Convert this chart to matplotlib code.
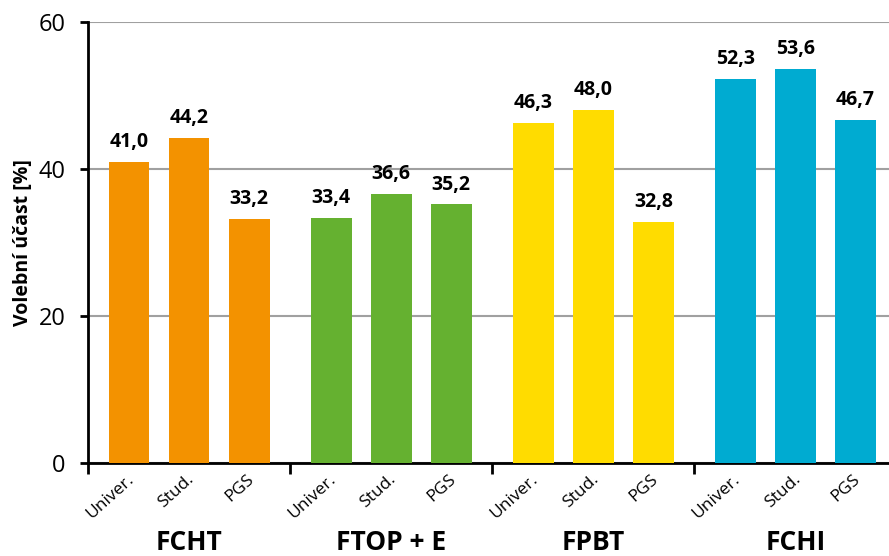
import numpy as np
import matplotlib
matplotlib.use("Agg")
import matplotlib.pyplot as plt
import matplotlib.transforms as mtransforms

plt.rcParams['font.family'] = ['Open Sans', 'DejaVu Sans']

groups = ['FCHT', 'FTOP + E', 'FPBT', 'FCHI']
subcats = ['Univer.', 'Stud.', 'PGS']
fcht = [41.0, 44.2, 33.2]
ftop = [33.4, 36.6, 35.2]
fpbt = [46.3, 48.0, 32.8]
fchi = [52.3, 53.6, 46.7]
colors = ['#F39200', '#65B130', '#FFDC00', '#00ABD1']

values = [fcht, ftop, fpbt, fchi]

gw = 3.367  # group width in bar-spacing units
fig = plt.figure(figsize=(8.89, 5.56), dpi=100)
ax = fig.add_axes([88/889, 93/556, 801/889, 441/556])

xs_all = []
labs_all = []
for g, vals in enumerate(values):
    xs = g * gw + np.arange(3) - 1
    ax.bar(xs, vals, width=0.68, color=colors[g], zorder=3)
    for x, v in zip(xs, vals):
        ax.annotate(('%.1f' % v).replace('.', ','), (x, v), xytext=(0, 7),
                    textcoords='offset points', ha='center', va='bottom',
                    fontsize=14, fontweight='bold', zorder=4)
    xs_all += list(xs)
    labs_all += subcats

ax.set_xlim(-gw / 2, (889 - 189.5) / 60)
ax.set_ylim(0, 60)
ax.set_yticks([0, 20, 40, 60])
ax.tick_params(axis='y', length=6, width=2, labelsize=17, pad=10)
ax.yaxis.grid(True, color='#a0a0a0', linewidth=1.5, zorder=0)
ax.set_axisbelow(True)

ax.set_xticks(xs_all)
ax.set_xticklabels(labs_all, rotation=42, ha='right', va='top', fontsize=12.5)
ax.tick_params(axis='x', which='major', length=0, pad=6)
ax.set_xticks([gw * (g - 0.5) for g in range(4)], minor=True)
ax.tick_params(axis='x', which='minor', length=8, width=2, direction='out')

# shift rotated labels so they sit under the bars
offset = mtransforms.ScaledTranslation(8 / 100, 0, fig.dpi_scale_trans)
for lab in ax.get_xticklabels():
    lab.set_transform(lab.get_transform() + offset)

for s in ['top', 'right']:
    ax.spines[s].set_visible(False)
for s in ['left', 'bottom']:
    ax.spines[s].set_linewidth(2)

trans = mtransforms.blended_transform_factory(ax.transData, fig.transFigure)
for g, name in enumerate(groups):
    ax.text(g * gw, 1 - 543 / 556, name, transform=trans, ha='center', va='center',
            fontsize=19, fontweight='bold')

ax.set_ylabel('Volební účast [%]', fontsize=14, fontweight='bold', labelpad=4)

fig.savefig('out.png', dpi=100)
